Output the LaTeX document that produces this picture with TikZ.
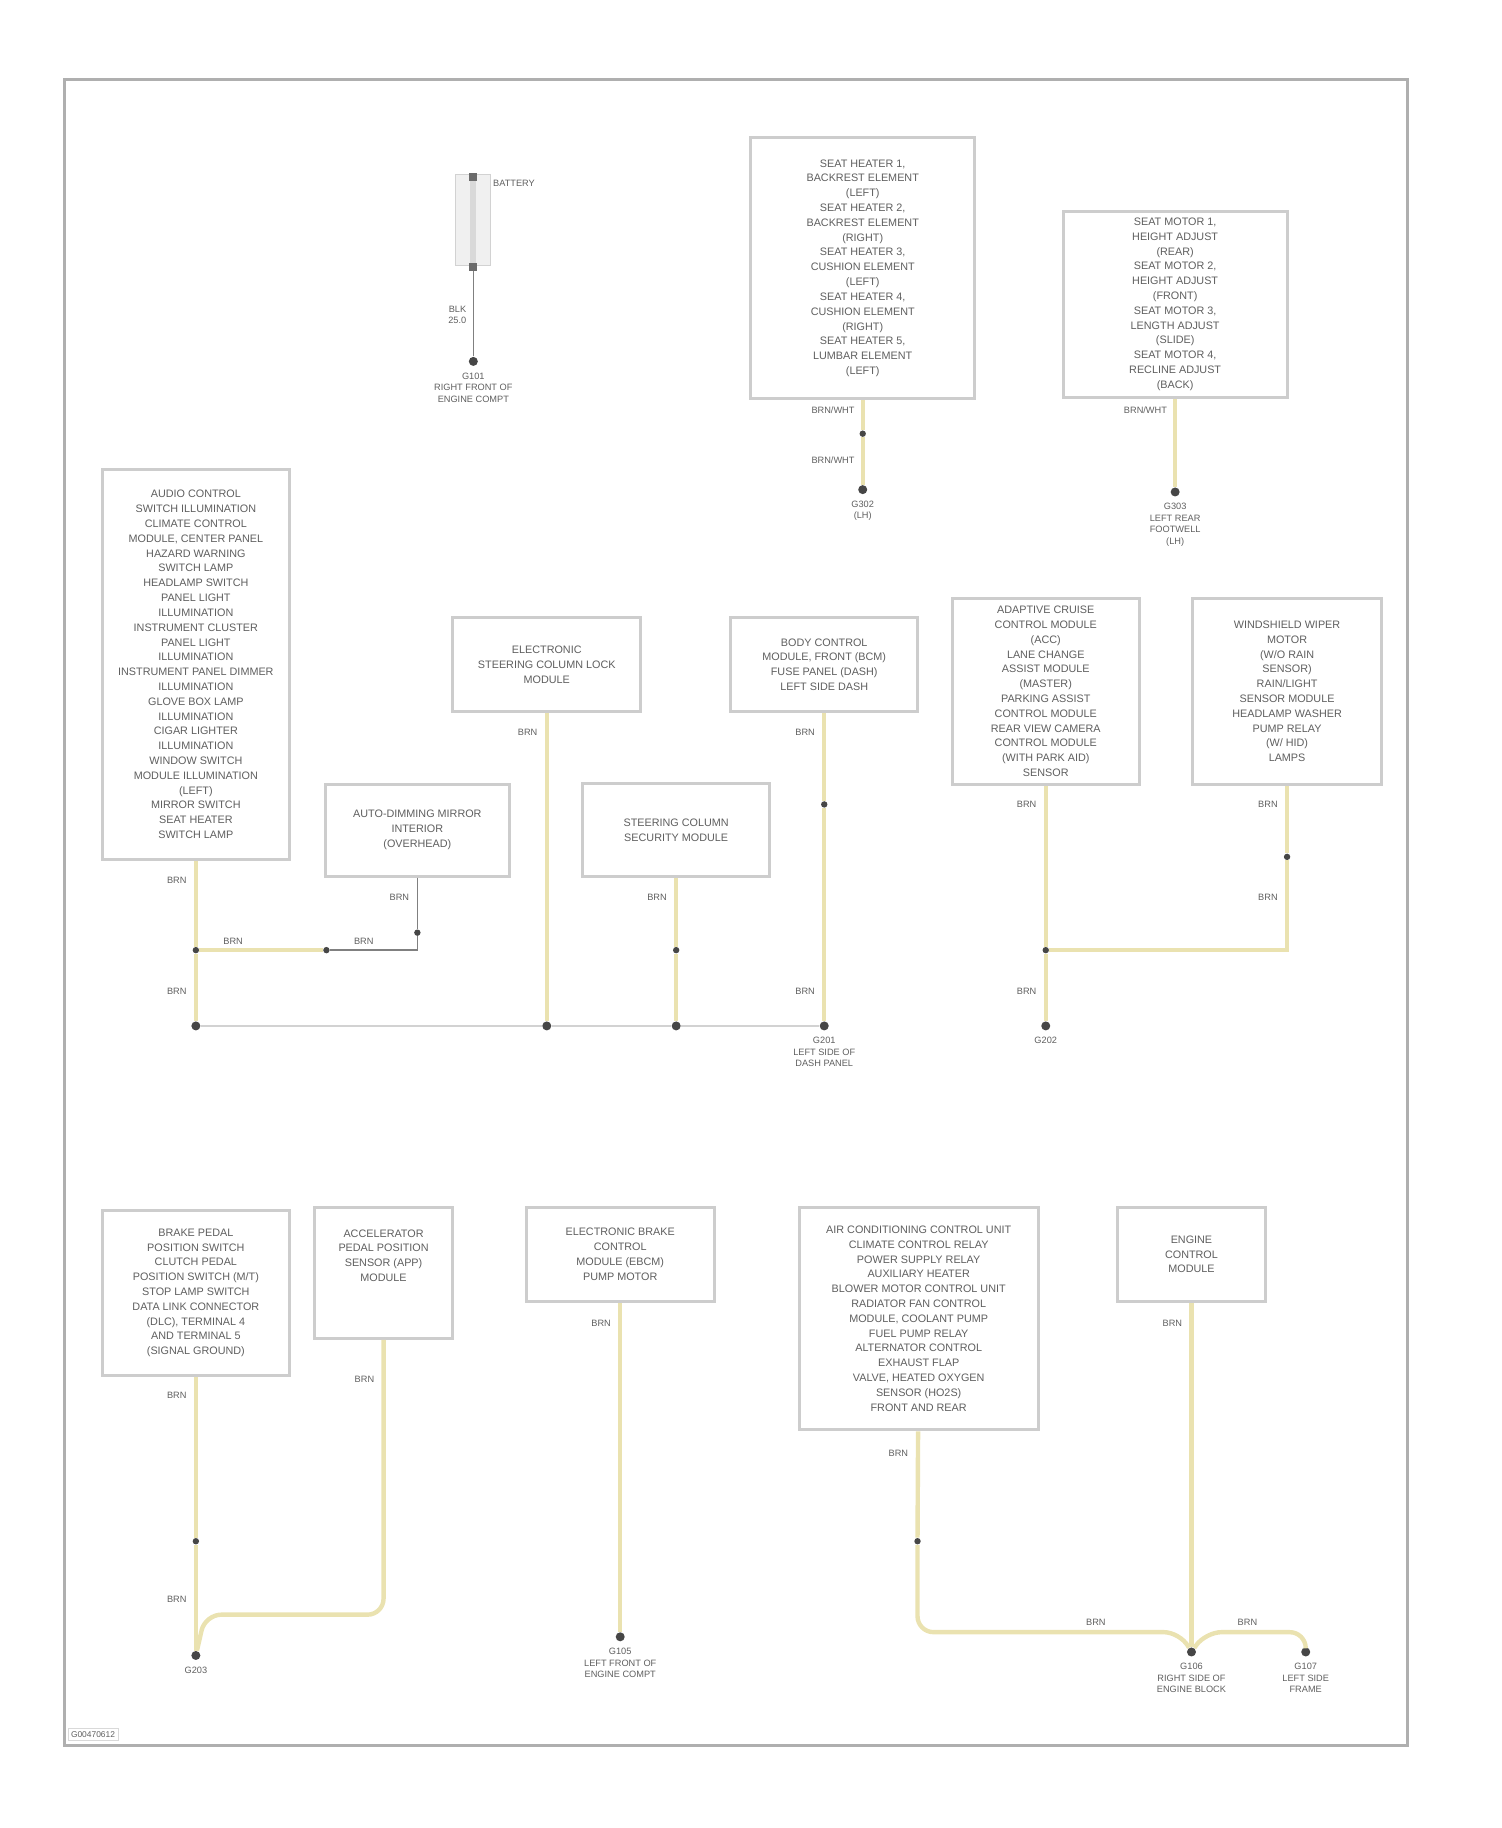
\documentclass[tikz,border=0pt]{standalone}
\usepackage{fontspec}
\setmainfont{Liberation Sans}
\usetikzlibrary{positioning, calc}
\definecolor{wireyel}{RGB}{234,226,176}
\definecolor{boxgray}{RGB}{205,205,205}
\definecolor{txtgray}{RGB}{95,95,95}
\definecolor{framegray}{RGB}{175,175,175}
\definecolor{dotgray}{RGB}{70,70,70}
\newcommand{\pxu}{0.5823pt}
\tikzset{
  comp/.style={draw=boxgray, line width=1.5pt, fill=white, align=center, text=txtgray, font=\fontsize{5.4}{7.4}\selectfont, inner sep=2pt},
  wire/.style={draw=wireyel, line width=2.2pt},
  gwire/.style={draw=gray, line width=0.8pt},
  busline/.style={draw=gray!35, line width=0.8pt},
  gnd/.style={circle, fill=dotgray, inner sep=0pt, minimum size=4.5pt},
  pin/.style={circle, fill=dotgray, inner sep=0pt, minimum size=3.2pt},
  term/.style={rectangle, fill=dotgray!80, inner sep=0pt, minimum size=4pt},
  wlab/.style={font=\fontsize{4.6}{5.6}\selectfont, text=txtgray, align=right, anchor=east, inner sep=1pt},
  glab/.style={font=\fontsize{4.6}{5.8}\selectfont, text=txtgray, align=center, anchor=north, inner sep=1pt},
}

\begin{document}
\begin{tikzpicture}[x=0.5823pt, y=-0.5823pt]
  \useasboundingbox (0,0) rectangle (1288,1568);
  \draw[framegray, line width=1.5pt] (55,68) rectangle (1207,1497);

  % Battery
  \node[draw=gray!35, fill=gray!12, minimum width=30*\pxu, minimum height=78*\pxu, inner sep=0pt] (batt) at (406,189) {};
  \draw[gray!30, line width=3pt] (batt.north) -- (batt.south);
  \node[term] (battP) at (406,152) {};
  \node[term] (battN) at (406,229) {};
  \node[wlab, anchor=west] (battL) at (421,157) {BATTERY};
  \node[gnd] (gBat) at (406,310) {};
  \draw[gwire] (battN) -- (gBat);
  \node[wlab] (wBat) at (402,270) {BLK\\25.0};
  \node[glab, below=2pt of gBat] (lBat) {G101\\RIGHT FRONT OF\\ENGINE COMPT};

  % Top boxes
  \node[comp, minimum width=192*\pxu, minimum height=224*\pxu] (boxA) at (740,230) {SEAT HEATER 1,\\BACKREST ELEMENT\\(LEFT)\\SEAT HEATER 2,\\BACKREST ELEMENT\\(RIGHT)\\SEAT HEATER 3,\\CUSHION ELEMENT\\(LEFT)\\SEAT HEATER 4,\\CUSHION ELEMENT\\(RIGHT)\\SEAT HEATER 5,\\LUMBAR ELEMENT\\(LEFT)};
  \node[pin] (conA) at (740,372) {};
  \node[gnd] (gA) at (740,420) {};
  \draw[wire] (boxA) -- (conA) -- (gA);
  \node[wlab] (wA1) at (735,352) {BRN/WHT};
  \node[wlab] (wA2) at (735,395) {BRN/WHT};
  \node[glab, below=2pt of gA] (lA) {G302\\(LH)};

  \node[comp, minimum width=192*\pxu, minimum height=160*\pxu] (boxB) at (1008,261) {SEAT MOTOR 1,\\HEIGHT ADJUST\\(REAR)\\SEAT MOTOR 2,\\HEIGHT ADJUST\\(FRONT)\\SEAT MOTOR 3,\\LENGTH ADJUST\\(SLIDE)\\SEAT MOTOR 4,\\RECLINE ADJUST\\(BACK)};
  \node[gnd] (gB) at (1008,422) {};
  \draw[wire] (boxB) -- (gB);
  \node[wlab] (wB) at (1003,352) {BRN/WHT};
  \node[glab, below=2pt of gB] (lB) {G303\\LEFT REAR\\FOOTWELL\\(LH)};

  % Middle row
  \node[comp, minimum width=160*\pxu, minimum height=334*\pxu] (boxC) at (168,570) {AUDIO CONTROL\\SWITCH ILLUMINATION\\CLIMATE CONTROL\\MODULE, CENTER PANEL\\HAZARD WARNING\\SWITCH LAMP\\HEADLAMP SWITCH\\PANEL LIGHT\\ILLUMINATION\\INSTRUMENT CLUSTER\\PANEL LIGHT\\ILLUMINATION\\INSTRUMENT PANEL DIMMER\\ILLUMINATION\\GLOVE BOX LAMP\\ILLUMINATION\\CIGAR LIGHTER\\ILLUMINATION\\WINDOW SWITCH\\MODULE ILLUMINATION\\(LEFT)\\MIRROR SWITCH\\SEAT HEATER\\SWITCH LAMP};
  \node[pin] (spC) at (168,815) {};
  \node[gnd] (busC) at (168,880) {};
  \draw[wire] (boxC) -- (spC) -- (busC);
  \node[wlab] (wC1) at (162,755) {BRN};
  \node[wlab] (wC2) at (162,850) {BRN};

  \node[comp, minimum width=158*\pxu, minimum height=79*\pxu] (boxD) at (358,712) {AUTO-DIMMING MIRROR\\INTERIOR\\(OVERHEAD)};
  \node[pin] (conD) at (358,800) {};
  \node[pin] (spD) at (280,815) {};
  \draw[gwire] (boxD) -- (conD) |- (spD);
  \draw[wire] (spC) -- (spD);
  \node[wlab] (wD1) at (353,770) {BRN};
  \node[wlab, anchor=south] (wD2) at (200,812) {BRN};
  \node[wlab, anchor=south] (wD3) at (312,812) {BRN};

  \node[comp, minimum width=161*\pxu, minimum height=80*\pxu] (boxE) at (469,570) {ELECTRONIC\\STEERING COLUMN LOCK\\MODULE};
  \node[gnd] (busE) at (469,880) {};
  \draw[wire] (boxE) -- (busE);
  \node[wlab] (wE) at (463,628) {BRN};

  \node[comp, minimum width=160*\pxu, minimum height=80*\pxu] (boxF) at (580,712) {STEERING COLUMN\\SECURITY MODULE};
  \node[pin] (spF) at (580,815) {};
  \node[gnd] (busF) at (580,880) {};
  \draw[wire] (boxF) -- (spF) -- (busF);
  \node[wlab] (wF) at (574,770) {BRN};

  \node[comp, minimum width=160*\pxu, minimum height=80*\pxu] (boxG) at (707,570) {BODY CONTROL\\MODULE, FRONT (BCM)\\FUSE PANEL (DASH)\\LEFT SIDE DASH};
  \node[pin] (conG) at (707,690) {};
  \node[gnd] (gG) at (707,880) {};
  \draw[wire] (boxG) -- (conG) -- (gG);
  \node[wlab] (wG1) at (701,628) {BRN};
  \node[wlab] (wG2) at (701,850) {BRN};
  \node[glab, below=2pt of gG] (lG) {G201\\LEFT SIDE OF\\DASH PANEL};
  \draw[busline] (busC) -- (busE) -- (busF) -- (gG);

  \node[comp, minimum width=160*\pxu, minimum height=159*\pxu] (boxH) at (897,593) {ADAPTIVE CRUISE\\CONTROL MODULE\\(ACC)\\LANE CHANGE\\ASSIST MODULE\\(MASTER)\\PARKING ASSIST\\CONTROL MODULE\\REAR VIEW CAMERA\\CONTROL MODULE\\(WITH PARK AID)\\SENSOR};
  \node[pin] (spH) at (897,815) {};
  \node[gnd] (gH) at (897,880) {};
  \draw[wire] (boxH) -- (spH) -- (gH);
  \node[wlab] (wH1) at (891,690) {BRN};
  \node[wlab] (wH2) at (891,850) {BRN};
  \node[glab, below=2pt of gH] (lH) {G202};

  \node[comp, minimum width=162*\pxu, minimum height=159*\pxu] (boxI) at (1104,593) {WINDSHIELD WIPER\\MOTOR\\(W/O RAIN\\SENSOR)\\RAIN/LIGHT\\SENSOR MODULE\\HEADLAMP WASHER\\PUMP RELAY\\(W/ HID)\\LAMPS};
  \node[pin] (conI) at (1104,735) {};
  \draw[wire] (boxI) -- (conI) |- (spH);
  \node[wlab] (wI1) at (1098,690) {BRN};
  \node[wlab] (wI2) at (1098,770) {BRN};

  % Bottom row
  \node[comp, minimum width=160*\pxu, minimum height=142*\pxu] (boxJ) at (168,1109) {BRAKE PEDAL\\POSITION SWITCH\\CLUTCH PEDAL\\POSITION SWITCH (M/T)\\STOP LAMP SWITCH\\DATA LINK CONNECTOR\\(DLC), TERMINAL 4\\AND TERMINAL 5\\(SIGNAL GROUND)};
  \node[pin] (conJ) at (168,1322) {};
  \node[gnd] (gJ) at (168,1420) {};
  \draw[wire] (boxJ) -- (conJ) -- (gJ);
  \node[wlab] (wJ1) at (162,1197) {BRN};
  \node[wlab] (wJ2) at (162,1372) {BRN};
  \node[glab, below=2pt of gJ] (lJ) {G203};

  \node[comp, minimum width=118*\pxu, minimum height=112*\pxu, text depth=30*\pxu] (boxK) at (329,1092) {ACCELERATOR\\PEDAL POSITION\\SENSOR (APP)\\MODULE};
  \coordinate (kTurn) at (329,1385);
  \coordinate (kBend) at (176,1385);
  \draw[wire, rounded corners=8pt] (boxK) -- (kTurn) -- (kBend) -- (gJ);
  \node[wlab] (wK) at (323,1183) {BRN};

  \node[comp, minimum width=161*\pxu, minimum height=81*\pxu] (boxL) at (532,1076) {ELECTRONIC BRAKE\\CONTROL\\MODULE (EBCM)\\PUMP MOTOR};
  \node[gnd] (gL) at (532,1404) {};
  \draw[wire] (boxL) -- (gL);
  \node[wlab] (wL) at (526,1135) {BRN};
  \node[glab, below=2pt of gL] (lL) {G105\\LEFT FRONT OF\\ENGINE COMPT};

  \node[comp, minimum width=205*\pxu, minimum height=191*\pxu] (boxM) at (788,1131) {AIR CONDITIONING CONTROL UNIT\\CLIMATE CONTROL RELAY\\POWER SUPPLY RELAY\\AUXILIARY HEATER\\BLOWER MOTOR CONTROL UNIT\\RADIATOR FAN CONTROL\\MODULE, COOLANT PUMP\\FUEL PUMP RELAY\\ALTERNATOR CONTROL\\EXHAUST FLAP\\VALVE, HEATED OXYGEN\\SENSOR (HO2S)\\FRONT AND REAR};
  \node[pin] (conM) at (787,1322) {};
  \node[gnd] (gN) at (1022,1417) {};
  \coordinate (mTurn) at (787,1400);
  \coordinate (mBend) at (1012,1400);
  \draw[wire] (boxM) -- (conM);
  \draw[wire, rounded corners=8pt] (conM) -- (mTurn) -- (mBend) -- (gN);
  \node[wlab] (wM1) at (781,1247) {BRN};
  \node[wlab, anchor=south] (wM2) at (940,1396) {BRN};

  \node[comp, minimum width=127*\pxu, minimum height=81*\pxu] (boxN) at (1022,1076) {ENGINE\\CONTROL\\MODULE};
  \draw[wire] (boxN) -- (gN);
  \node[wlab] (wN) at (1016,1135) {BRN};
  \node[glab, below=2pt of gN] (lN) {G106\\RIGHT SIDE OF\\ENGINE BLOCK};

  \node[gnd] (gN2) at (1120,1417) {};
  \coordinate (nBend) at (1034,1400);
  \coordinate (nTurn) at (1120,1400);
  \draw[wire, rounded corners=8pt] (gN) -- (nBend) -- (nTurn) -- (gN2);
  \node[wlab, anchor=south] (wN2) at (1070,1396) {BRN};
  \node[glab, below=2pt of gN2] (lN2) {G107\\LEFT SIDE\\FRAME};

  \node[draw=gray!30, font=\fontsize{4.2}{5}\selectfont, text=txtgray, inner sep=1.5pt, anchor=west] (figid) at (58,1488) {G00470612};
\end{tikzpicture}
\end{document}
